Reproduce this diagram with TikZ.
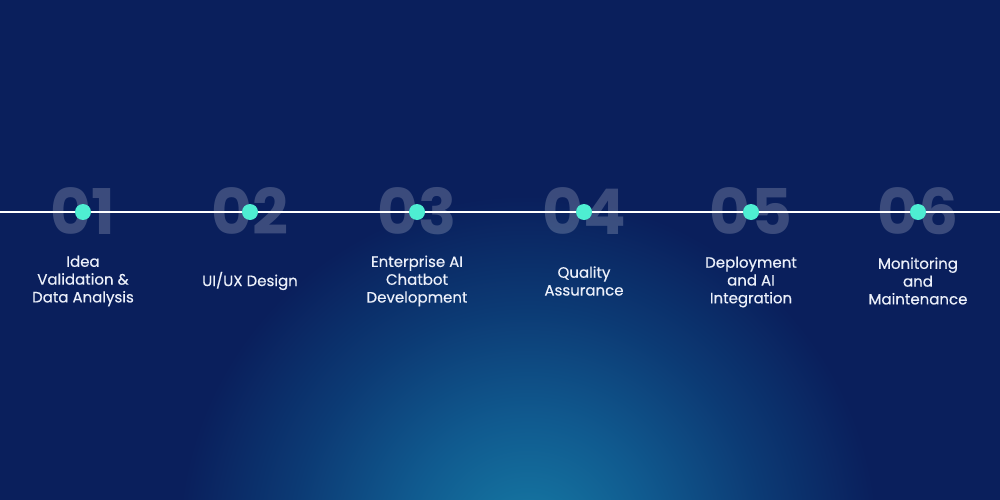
\documentclass[tikz,border=0pt]{standalone}
\usepackage{fontspec}
\setmainfont{Poppins}
\newfontfamily\labfont{Poppins}[FakeBold=0.35]
\definecolor{bgc}{RGB}{10,31,92}
\definecolor{glowA}{RGB}{22,124,166}
\definecolor{glowB}{RGB}{16,90,143}
\definecolor{glowC}{RGB}{12,58,116}
\definecolor{dotc}{RGB}{78,238,210}
\definecolor{labc}{RGB}{236,240,250}
\pgfdeclareradialshading{glowshade}{\pgfpoint{0bp}{0bp}}{color(0bp)=(glowA); color(9bp)=(glowB); color(17bp)=(glowC); color(25bp)=(bgc); color(50bp)=(bgc)}
\tikzset{
  numtxt/.style={text=white, text opacity=0.2, font=\fontsize{63}{63}\selectfont\bfseries, inner sep=0pt, anchor=center},
  stepdot/.style={circle, fill=dotc, minimum size=16pt, inner sep=0pt},
  steplabel/.style={text=labc, font=\labfont\fontsize{15}{17.8}\selectfont, align=center, anchor=center, inner sep=0pt},
  timeline/.style={draw=white, line width=1.1pt}
}
\begin{document}
\begin{tikzpicture}[x=1pt,y=-1pt]
\useasboundingbox (0,0) rectangle (1000,500);
\fill[bgc] (0,0) rectangle (1000,500);
\begin{scope}
\clip (0,0) rectangle (1000,500);
\shade[shading=glowshade] (528,545) ellipse [x radius=350, y radius=350];
\end{scope}
\coordinate (L) at (0,212);
\coordinate (R) at (1000,212);
\foreach \i/\x/\t in {1/83/01,2/250/02,3/417/03,4/584/04,5/751/05,6/918/06}{
  \node[numtxt] (n\i) at (\x,211) {\t};
}
\draw[timeline] (L) -- (R);
\foreach \i/\x in {1/83,2/250,3/417,4/584,5/751,6/918}{
  \node[stepdot] (d\i) at (\x,212) {};
}
\node[steplabel] (l1) at (83,281) {Idea\\Validation \&\\Data Analysis};
\node[steplabel] (l2) at (250,281) {UI/UX Design};
\node[steplabel] (l3) at (417,281) {Enterprise AI\\Chatbot\\Development};
\node[steplabel] (l4) at (584,281) {Quality\\Assurance};
\node[steplabel] (l5) at (751,282) {Deployment\\and AI\\Integration};
\node[steplabel] (l6) at (918,281) {Monitoring\\and\\Maintenance};
\end{tikzpicture}
\end{document}
